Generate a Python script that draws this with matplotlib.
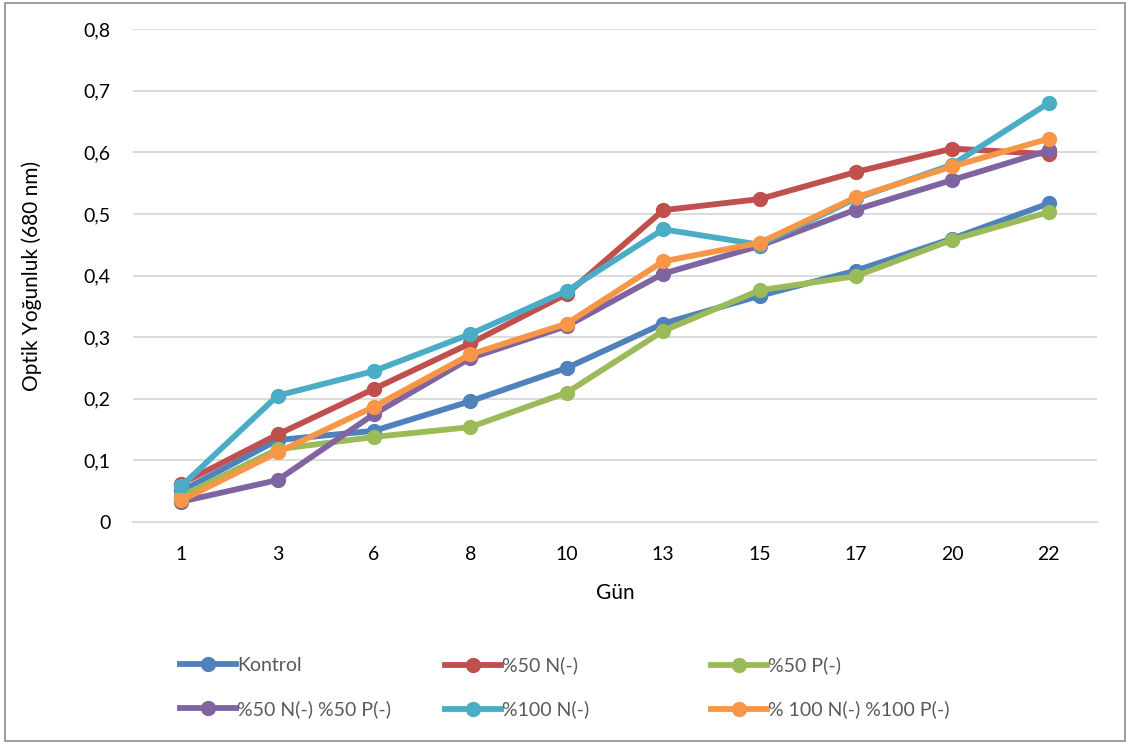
import matplotlib
matplotlib.use("Agg")
import matplotlib.pyplot as plt
from matplotlib.patches import Rectangle
from matplotlib.ticker import FuncFormatter, MultipleLocator

plt.rcParams.update({
    "font.family": ["Lato", "DejaVu Sans"],
    "text.color": "#000000",
})

days = ["1", "3", "6", "8", "10", "13", "15", "17", "20", "22"]

kontrol = [0.050, 0.133, 0.148, 0.196, 0.250, 0.322, 0.367, 0.408, 0.460, 0.517]
n50 = [0.062, 0.142, 0.216, 0.290, 0.370, 0.506, 0.524, 0.568, 0.606, 0.597]
p50 = [0.042, 0.118, 0.138, 0.154, 0.210, 0.310, 0.376, 0.399, 0.458, 0.503]
n50_p50 = [0.033, 0.068, 0.175, 0.266, 0.318, 0.403, 0.448, 0.507, 0.555, 0.603]
n100 = [0.058, 0.205, 0.245, 0.305, 0.375, 0.475, 0.450, 0.525, 0.580, 0.680]
n100_p100 = [0.035, 0.113, 0.187, 0.272, 0.322, 0.423, 0.453, 0.527, 0.577, 0.622]

series = [
    ("Kontrol", kontrol, "#4F81BD"),
    ("%50 N(-)", n50, "#C0504D"),
    ("%50 P(-)", p50, "#9BBB59"),
    ("%50 N(-) %50 P(-)", n50_p50, "#8064A2"),
    ("%100 N(-)", n100, "#4BACC6"),
    ("% 100 N(-) %100 P(-)", n100_p100, "#F79646"),
]

fig = plt.figure(figsize=(11.30, 7.44), dpi=100)
ax = fig.add_axes([0.1177, 0.2984, 0.8531, 0.6626])

x = list(range(len(days)))
handles = []
for name, vals, color in series:
    (h,) = ax.plot(x, vals, color=color, linewidth=4.2, marker="o",
                   markersize=10, label=name, zorder=3)
    handles.append(h)

ax.set_xlim(-0.5, len(days) - 0.5)
ax.set_ylim(0, 0.8)
ax.set_xticks(x)
ax.set_xticklabels(days)
ax.yaxis.set_major_locator(MultipleLocator(0.1))
ax.yaxis.set_major_formatter(
    FuncFormatter(lambda v, _: "0" if abs(v) < 1e-9 else f"{v:.1f}".replace(".", ",")))
ax.grid(True, axis="y", color="#D9D9D9", linewidth=1.3)
ax.set_axisbelow(True)
for s in ["top", "right", "left"]:
    ax.spines[s].set_visible(False)
ax.spines["bottom"].set_color("#D9D9D9")
ax.spines["bottom"].set_linewidth(1.3)
ax.tick_params(axis="both", length=0, labelsize=14, colors="#000000")
ax.tick_params(axis="x", pad=17)
ax.tick_params(axis="y", pad=16)

ax.set_xlabel("Gün", fontsize=15, labelpad=15)
ax.set_ylabel("Optik Yoğunluk (680 nm)", fontsize=15, labelpad=30)

# three legend columns of equal width, two entries each (row-wise order)
col_x = [0.152, 0.387, 0.622]
for c, cx in enumerate(col_x):
    hs = [handles[c], handles[c + 3]]
    leg = fig.legend(hs, [h.get_label() for h in hs], loc="upper left",
                     bbox_to_anchor=(cx, 0.128), frameon=False, fontsize=14,
                     handlelength=2.9, handletextpad=0.05,
                     labelspacing=1.35, borderaxespad=0)
    for t in leg.get_texts():
        t.set_color("#595959")

fig.add_artist(Rectangle((0.004, 0.004), 0.992, 0.992, transform=fig.transFigure,
                         fill=False, edgecolor="#8C8C8C", linewidth=1.2))

fig.savefig("out.png", dpi=100)
